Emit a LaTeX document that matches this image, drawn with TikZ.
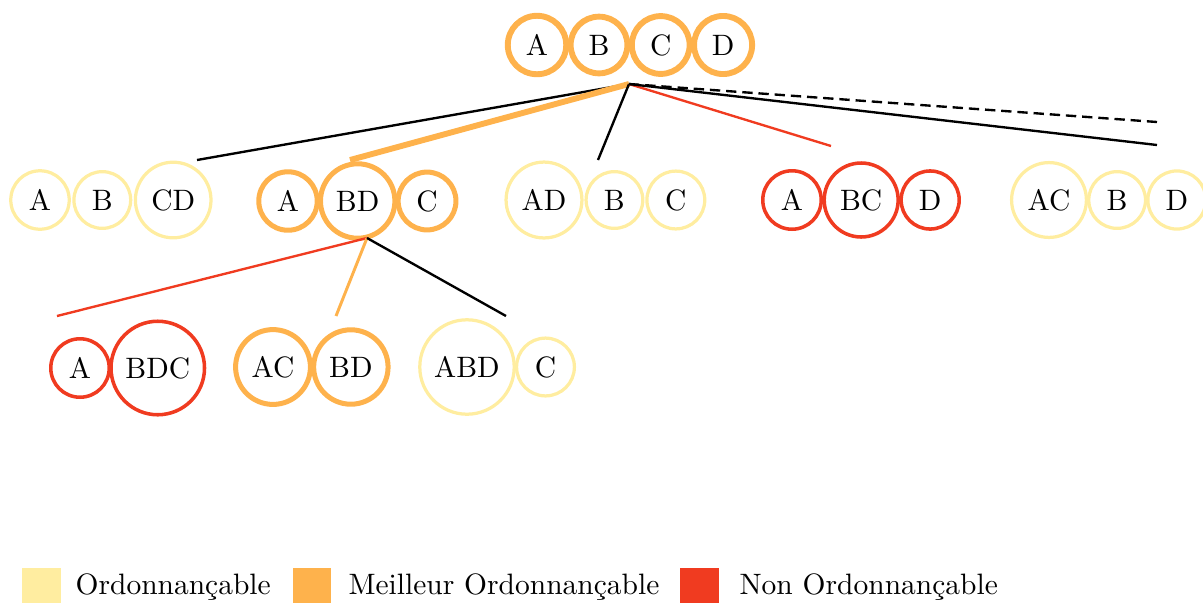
\documentclass[tikz,border=0pt]{standalone}
\usepackage{fontspec}
\usetikzlibrary{positioning}
\definecolor{cOk}{HTML}{FFEDA0}
\definecolor{cBest}{HTML}{FEB24C}
\definecolor{cBad}{HTML}{F03B20}
\begin{document}
\begin{tikzpicture}[x=0.339pt,y=-0.339pt,
  circ/.style={circle},
  okc/.style={circ, draw=cOk, line width=1.1pt},
  bestc/.style={circ, draw=cBest, line width=1.7pt},
  badc/.style={circ, draw=cBad, line width=1.2pt},
  rootc/.style={circ, draw=cBest, line width=2pt},
  edgeblack/.style={draw=black, line width=0.8pt},
  edgebad/.style={draw=cBad, line width=0.8pt},
  edgebest/.style={draw=cBest, line width=2pt},
  edgebestthin/.style={draw=cBest, line width=1pt},
  edgemore/.style={draw=black, line width=0.8pt, dash pattern=on 3.5pt off 2pt},
  swatch/.style={rectangle, inner sep=0pt, minimum width=13.2pt, minimum height=13.2pt},
  legtext/.style={anchor=base west, inner sep=0pt}]
\useasboundingbox (0,0) rectangle (1203,602);

% root
\node[rootc] (t1) at (537,45) {A};
\node[rootc, right=-0.5pt of t1] (t2) {B};
\node[rootc, right=-0.5pt of t2] (t3) {C};
\node[rootc, right=-0.5pt of t3] (t4) {D};

% level 1
\node[okc] (a1) at (40,200) {A};
\node[okc, right=0.5pt of a1] (b1) {B};
\node[okc, right=0.5pt of b1] (c1) {CD};

\node[bestc] (a2) at (288,201) {A};
\node[bestc, right=-0.6pt of a2] (b2) {BD};
\node[bestc, right=-0.6pt of b2] (c2) {C};

\node[okc] (a3) at (544,200) {AD};
\node[okc, right=0.3pt of a3] (b3) {B};
\node[okc, right=0.3pt of b3] (c3) {C};

\node[badc] (a4) at (792,200) {A};
\node[badc, right=-0.2pt of a4] (b4) {BC};
\node[badc, right=-0.2pt of b4] (c4) {D};

\node[okc] (a5) at (1049,200) {AC};
\node[okc, right=-0.3pt of a5] (b5) {B};
\node[okc, right=-0.3pt of b5] (c5) {D};

% level 2
\node[badc] (a6) at (80,368) {A};
\node[badc, right=-0.6pt of a6] (b6) {BDC};

\node[bestc] (a7) at (273,367) {AC};
\node[bestc, right=-0.6pt of a7] (b7) {BD};

\node[okc] (a8) at (467,367) {ABD};
\node[okc, right=-0.3pt of a8] (b8) {C};

% connectors
\coordinate (r) at (629,84);
\coordinate (e1) at (197,160);
\coordinate (e2) at (350,160);
\coordinate (e3) at (598,160);
\coordinate (e4) at (831,146);
\coordinate (e5) at (1157,145);
\coordinate (e6) at (1157,122);
\draw[edgeblack] (r) -- (e1);
\draw[edgebest] (r) -- (e2);
\draw[edgeblack] (r) -- (e3);
\draw[edgebad] (r) -- (e4);
\draw[edgeblack] (r) -- (e5);
\draw[edgemore] (r) -- (e6);

\coordinate (s) at (367,238);
\coordinate (f1) at (57,316);
\coordinate (f2) at (336,316);
\coordinate (f3) at (506,316);
\draw[edgebad] (s) -- (f1);
\draw[edgebestthin] (s) -- (f2);
\draw[edgeblack] (s) -- (f3);

% legend
\node[swatch, fill=cOk] (l1) at (41.5,587) {};
\node[legtext] (lt1) at (75,594) {Ordonnançable};
\node[swatch, fill=cBest] (l2) at (312,587) {};
\node[legtext] (lt2) at (348,594) {Meilleur Ordonnançable};
\node[swatch, fill=cBad] (l3) at (699.5,587) {};
\node[legtext] (lt3) at (739,594) {Non Ordonnançable};
\end{tikzpicture}
\end{document}
